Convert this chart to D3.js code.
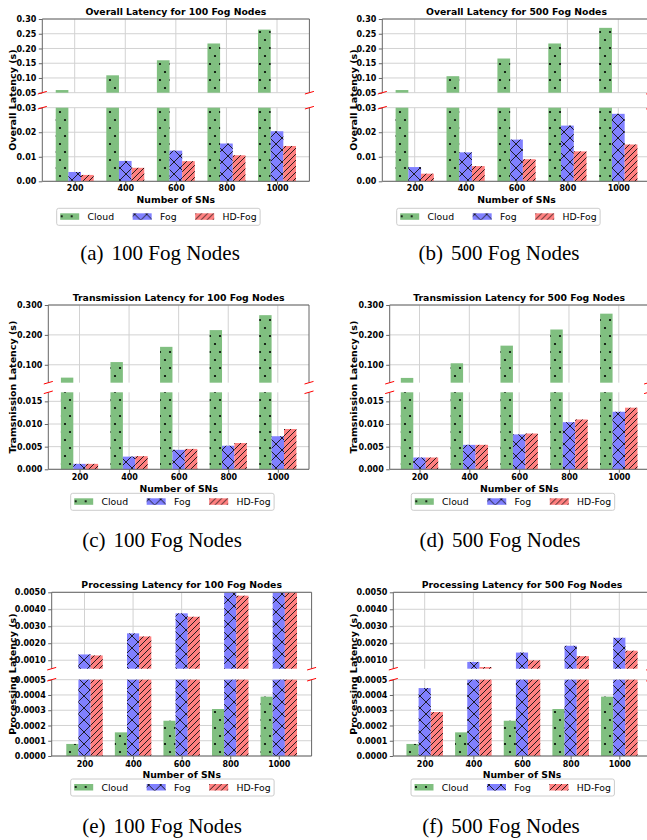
<!DOCTYPE html>
<html><head><meta charset="utf-8">
<script src="https://cdn.jsdelivr.net/npm/d3@7"></script>
<style>body{margin:0;background:#fff} svg{display:block;font-family:"DejaVu Sans",sans-serif}</style>
</head><body>
<svg id="chart" width="647" height="840"></svg>
<script>
// ---------------- DATA ----------------
const categories = [200, 400, 600, 800, 1000];
const seriesNames = ['Cloud', 'Fog', 'HD-Fog'];

// (a) Overall latency, 100 fog nodes
const overall100Cloud = [0.059, 0.109, 0.160, 0.217, 0.264];
const overall100Fog   = [0.0038, 0.0083, 0.0125, 0.0154, 0.0204];
const overall100HD    = [0.0026, 0.0055, 0.0082, 0.0106, 0.0144];
// (b) Overall latency, 500 fog nodes
const overall500Cloud = [0.059, 0.106, 0.166, 0.217, 0.270];
const overall500Fog   = [0.0058, 0.0118, 0.0170, 0.0227, 0.0275];
const overall500HD    = [0.0031, 0.0062, 0.0090, 0.0122, 0.0150];
// (c) Transmission latency, 100 fog nodes
const trans100Cloud = [0.057, 0.109, 0.160, 0.216, 0.266];
const trans100Fog   = [0.0012, 0.0028, 0.0043, 0.0052, 0.0073];
const trans100HD    = [0.0012, 0.0029, 0.0045, 0.0058, 0.0089];
// (d) Transmission latency, 500 fog nodes
const trans500Cloud = [0.056, 0.105, 0.164, 0.218, 0.271];
const trans500Fog   = [0.0026, 0.0054, 0.0077, 0.0104, 0.0127];
const trans500HD    = [0.0026, 0.0054, 0.0079, 0.0110, 0.0136];
// (e) Processing latency, 100 fog nodes
const proc100Cloud = [0.000079, 0.000155, 0.000231, 0.000308, 0.000389];
const proc100Fog   = [0.00134, 0.00258, 0.00376, 0.0051, 0.0062];
const proc100HD    = [0.00128, 0.00240, 0.00356, 0.00480, 0.0060];
// (f) Processing latency, 500 fog nodes
const proc500Cloud = [0.000079, 0.000155, 0.000231, 0.000308, 0.000389];
const proc500Fog   = [0.000445, 0.00090, 0.00145, 0.00185, 0.00232];
const proc500HD    = [0.000288, 0.00060, 0.00099, 0.00124, 0.00156];

// axis ranges / ticks
const overallUpperRange = [0.05, 0.30];
const overallUpperTicks = [0.05, 0.10, 0.15, 0.20, 0.25, 0.30];
const overallLowerRange = [0, 0.03];
const overallLowerTicks = [0, 0.01, 0.02, 0.03];
const transUpperRange = [0.04, 0.30];
const transUpperTicks = [0.1, 0.2, 0.3];
const transLowerRange = [0, 0.017];
const transLowerTicks = [0, 0.005, 0.010, 0.015];
const procUpperRange = [0.0005, 0.005];
const procUpperTicks = [0.001, 0.002, 0.003, 0.004, 0.005];
const procLowerRange = [0, 0.0005];
const procLowerTicks = [0, 0.0001, 0.0002, 0.0003, 0.0004, 0.0005];

const titles = ['Overall Latency for 100 Fog Nodes', 'Overall Latency for 500 Fog Nodes',
  'Transmission Latency for 100 Fog Nodes', 'Transmission Latency for 500 Fog Nodes',
  'Processing Latency for 100 Fog Nodes', 'Processing Latency for 500 Fog Nodes'];
const yLabels = ['Overall Latency (s)', 'Overall Latency (s)', 'Tramsnission Latency (s)',
  'Tramsnission Latency (s)', 'Processing Latency (s)', 'Processing Latency (s)'];
const xLabel = 'Number of SNs';
const captions = ['(a)', '(b)', '(c)', '(d)', '(e)', '(f)'];
const captionTexts = ['100 Fog Nodes', '500 Fog Nodes', '100 Fog Nodes', '500 Fog Nodes', '100 Fog Nodes', '500 Fog Nodes'];

// ---------------- STYLE / LAYOUT ----------------
const colors = ['#80bf80', '#8080ff', '#ff8080'];
const hatches = ['hDots', 'hX', 'hSlash'];

const rows = [
  {title: 11.7, uTop: 19, uBot: 92.7, lTop: 107.7, lBot: 181.3, tickY: 188.5, xlabY: 200, legTop: 208.3, capY: 260},
  {title: 297.3, uTop: 305, uBot: 382.7, lTop: 392.3, lBot: 469.3, tickY: 477.3, xlabY: 489, legTop: 493.3, capY: 547},
  {title: 585, uTop: 592.3, uBot: 668.7, lTop: 679.7, lBot: 756, tickY: 764.3, xlabY: 774.3, legTop: 779, capY: 833}
];

const panels = [
  {row: 0, left: 42.3, x0: 74.7, x4: 277, ylabX: 12.7, legX: 56.7, capX: 160,
   series: [overall100Cloud, overall100Fog, overall100HD],
   uR: overallUpperRange, uT: overallUpperTicks, lR: overallLowerRange, lT: overallLowerTicks, fmt: '.2f'},
  {row: 0, left: 382.3, x0: 414.7, x4: 618.3, ylabX: 353.3, legX: 396.7, capX: 499,
   series: [overall500Cloud, overall500Fog, overall500HD],
   uR: overallUpperRange, uT: overallUpperTicks, lR: overallLowerRange, lT: overallLowerTicks, fmt: '.2f'},
  {row: 1, left: 48.3, x0: 79.5, x4: 277.8, ylabX: 12.7, legX: 70.7, capX: 162,
   series: [trans100Cloud, trans100Fog, trans100HD],
   uR: transUpperRange, uT: transUpperTicks, lR: transLowerRange, lT: transLowerTicks, fmt: '.3f'},
  {row: 1, left: 389.7, x0: 419.5, x4: 618.8, ylabX: 353.3, legX: 411.3, capX: 500,
   series: [trans500Cloud, trans500Fog, trans500HD],
   uR: transUpperRange, uT: transUpperTicks, lR: transLowerRange, lT: transLowerTicks, fmt: '.3f'},
  {row: 2, left: 51.7, x0: 84.5, x4: 278.8, ylabX: 12.7, legX: 70.7, capX: 162,
   series: [proc100Cloud, proc100Fog, proc100HD],
   uR: procUpperRange, uT: procUpperTicks, lR: procLowerRange, lT: procLowerTicks, fmt: '.4f'},
  {row: 2, left: 393.3, x0: 424.7, x4: 619.3, ylabX: 353.3, legX: 411, capX: 501,
   series: [proc500Cloud, proc500Fog, proc500HD],
   uR: procUpperRange, uT: procUpperTicks, lR: procLowerRange, lT: procLowerTicks, fmt: '.4f'}
];

// ---------------- DRAW ----------------
const svg = d3.select('#chart');
const defs = svg.append('defs');
function pattern(id, w, h, draw) {
  const p = defs.append('pattern').attr('id', id).attr('patternUnits', 'userSpaceOnUse')
    .attr('width', w).attr('height', h);
  draw(p);
}
pattern('hDots', 10, 16, p => {
  [[0, 0], [10, 0], [0, 16], [10, 16], [5, 8]].forEach(([cx, cy]) =>
    p.append('circle').attr('cx', cx).attr('cy', cy).attr('r', 1.1).attr('fill', '#000'));
});
pattern('hX', 12, 12, p => p.append('path')
  .attr('d', 'M-1,-1L13,13M-1,13L13,-1M-1,11L1,13M11,-1L13,1M-1,1L1,-1M11,13L13,11')
  .attr('stroke', '#111').attr('stroke-width', 0.9).attr('fill', 'none'));
pattern('hSlash', 6, 6, p => p.append('path')
  .attr('d', 'M-1,7L7,-1M-1,1L1,-1M5,7L7,5')
  .attr('stroke', '#111').attr('stroke-width', 0.9).attr('fill', 'none'));

const gridColor = '#d2d2d2';
const spineColor = '#666';

panels.forEach((P, pi) => {
  const R = rows[P.row];
  const right = P.x4 + (P.x0 - P.left);
  const g = svg.append('g');
  const x = d3.scalePoint().domain(categories).range([P.x0, P.x4]);
  const bw = x.step() * 0.25;
  const yU = d3.scaleLinear().domain(P.uR).range([R.uBot, R.uTop]).clamp(true);
  const yL = d3.scaleLinear().domain(P.lR).range([R.lBot, R.lTop]).clamp(true);
  const parts = [
    {y: yU, ticks: P.uT, top: R.uTop, bot: R.uBot},
    {y: yL, ticks: P.lT, top: R.lTop, bot: R.lBot}
  ];
  parts.forEach(part => {
    // grid
    g.append('g').selectAll('line').data(part.ticks).join('line')
      .attr('x1', P.left).attr('x2', right)
      .attr('y1', d => part.y(d)).attr('y2', d => part.y(d))
      .attr('stroke', gridColor).attr('stroke-width', 1);
    g.append('g').selectAll('line').data(categories).join('line')
      .attr('x1', d => x(d)).attr('x2', d => x(d))
      .attr('y1', part.top).attr('y2', part.bot)
      .attr('stroke', gridColor).attr('stroke-width', 1);
    // bars
    P.series.forEach((vals, si) => {
      const data = vals.map((v, i) => ({c: categories[i], v}));
      const bg = g.append('g');
      const bx = d => x(d.c) + (si - 1) * bw - bw / 2;
      const by = d => part.y(d.v);
      const bh = d => part.y(0) - part.y(d.v);
      bg.selectAll('rect.f').data(data).join('rect').attr('class', 'f')
        .attr('x', bx).attr('y', by).attr('width', bw).attr('height', bh)
        .attr('fill', colors[si]);
      bg.selectAll('rect.h').data(data).join('rect').attr('class', 'h')
        .attr('x', bx).attr('y', by).attr('width', bw).attr('height', bh)
        .attr('fill', `url(#${hatches[si]})`);
    });
    // y axis
    const ax = g.append('g').attr('transform', `translate(${P.left},0)`)
      .call(d3.axisLeft(part.y).tickValues(part.ticks).tickFormat(d3.format(P.fmt)).tickSize(3.5).tickPadding(2.5));
    ax.select('.domain').remove();
    ax.selectAll('line').attr('stroke', spineColor);
    ax.selectAll('text').attr('font-size', 8).attr('font-weight', 'bold')
      .attr('font-family', '"DejaVu Sans", sans-serif').attr('fill', '#000');
  });
  // spines
  const sp = (x1, y1, x2, y2) => g.append('line').attr('x1', x1).attr('y1', y1).attr('x2', x2).attr('y2', y2)
    .attr('stroke', spineColor).attr('stroke-width', 1);
  sp(P.left, R.uTop, P.left, R.uBot); sp(right, R.uTop, right, R.uBot); sp(P.left, R.uTop, right, R.uTop);
  sp(P.left, R.lTop, P.left, R.lBot); sp(right, R.lTop, right, R.lBot); sp(P.left, R.lBot, right, R.lBot);
  // break marks
  [[P.left, R.uBot], [right, R.uBot], [P.left, R.lTop], [right, R.lTop]].forEach(([bx, by]) =>
    g.append('line').attr('x1', bx - 4.5).attr('y1', by + 1.3).attr('x2', bx + 4.5).attr('y2', by - 1.3)
      .attr('stroke', '#ff0000').attr('stroke-width', 1));
  // x axis
  const xa = g.append('g').attr('transform', `translate(0,${R.lBot})`)
    .call(d3.axisBottom(x).tickSize(3.5).tickPadding(1));
  xa.select('.domain').remove();
  xa.selectAll('line').attr('stroke', spineColor);
  xa.selectAll('text').attr('font-size', 8).attr('font-weight', 'bold')
    .attr('font-family', '"DejaVu Sans", sans-serif').attr('fill', '#000')
    .attr('y', R.tickY - R.lBot).attr('dy', '0.35em');
  // title
  const cx = (P.left + right) / 2;
  g.append('text').attr('x', cx).attr('y', R.title).attr('dy', '0.35em').attr('text-anchor', 'middle')
    .attr('font-size', 9.3).attr('font-weight', 'bold').text(titles[pi]);
  // x label
  g.append('text').attr('x', cx).attr('y', R.xlabY).attr('dy', '0.35em').attr('text-anchor', 'middle')
    .attr('font-size', 9.3).attr('font-weight', 'bold').text(xLabel);
  // y label
  g.append('text').attr('transform', `translate(${P.ylabX},${(R.uTop + R.lBot) / 2}) rotate(-90)`)
    .attr('dy', '0.35em').attr('text-anchor', 'middle')
    .attr('font-size', 9.5).attr('font-weight', 'bold').text(yLabels[pi]);
  // legend
  const lg = g.append('g').attr('transform', `translate(${P.legX},${R.legTop})`);
  const box = lg.append('rect').attr('rx', 2).attr('ry', 2).attr('fill', '#fff')
    .attr('stroke', '#cccccc').attr('stroke-width', 1).attr('height', 17);
  let lx = 3.5;
  seriesNames.forEach((name, si) => {
    lg.append('rect').attr('x', lx).attr('y', 5).attr('width', 19).attr('height', 6.5).attr('fill', colors[si]);
    lg.append('rect').attr('x', lx).attr('y', 5).attr('width', 19).attr('height', 6.5).attr('fill', `url(#${hatches[si]})`);
    const t = lg.append('text').attr('x', lx + 27.3).attr('y', 8.5).attr('dy', '0.35em')
      .attr('font-size', 9.3).text(name);
    const w = t.node().getComputedTextLength();
    lx = lx + 27.3 + w + (si < 2 ? 18.6 : 3.5);
  });
  box.attr('width', lx);
  // caption
  const cap = svg.append('text').attr('x', P.capX).attr('y', R.capY).attr('text-anchor', 'middle')
    .attr('font-family', '"Liberation Serif", "Times New Roman", serif').attr('font-size', 21);
  cap.append('tspan').text(captions[pi]);
  cap.append('tspan').attr('dx', 8).text(captionTexts[pi]);
});
</script>
</body></html>
